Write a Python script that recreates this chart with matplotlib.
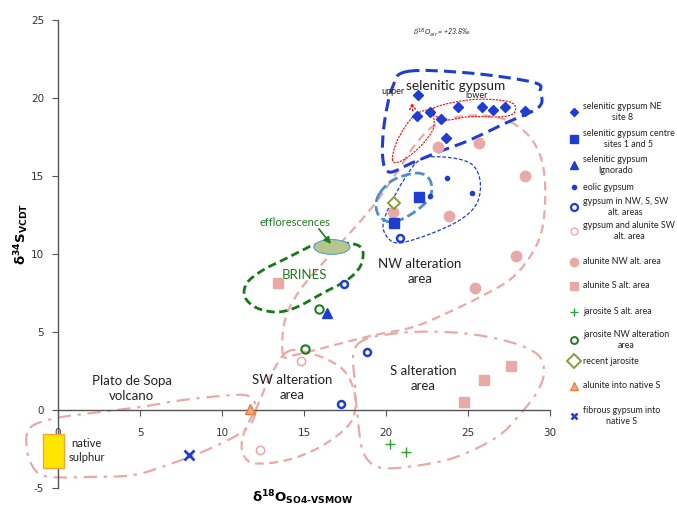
import numpy as np
import matplotlib
matplotlib.use("Agg")
import matplotlib.pyplot as plt
from matplotlib.path import Path
from matplotlib.patches import PathPatch, Ellipse, Rectangle

plt.rcParams['font.family'] = ['Lato', 'DejaVu Sans']
plt.rcParams['axes.unicode_minus'] = False

# --- isotope data (d18O SO4-VSMOW, d34S VCDT) ---
sel_ne_x = [21.95, 21.9, 22.7, 23.35, 24.4, 25.85, 26.5, 27.25, 28.5, 23.65]
sel_ne_y = [20.2, 18.85, 19.1, 18.65, 19.4, 19.4, 19.2, 19.4, 19.15, 17.45]
sel_centre_x = [22.0, 20.5]
sel_centre_y = [13.65, 12.0]
sel_ign_x = [16.4]
sel_ign_y = [6.2]
eolic_x = [23.7, 25.25, 22.7]
eolic_y = [14.9, 13.9, 13.7]
gyp_alt_x = [20.85, 17.45, 18.85, 17.25]
gyp_alt_y = [11.0, 8.1, 3.7, 0.4]
gyp_alu_sw_x = [14.8, 12.3]
gyp_alu_sw_y = [3.15, -2.55]
alu_nw_x = [23.2, 25.7, 28.5, 23.85, 27.9, 25.4, 20.4]
alu_nw_y = [16.85, 17.1, 15.0, 12.45, 9.9, 7.8, 12.7]
alu_s_x = [13.4, 27.6, 26.0, 24.75]
alu_s_y = [8.15, 2.8, 1.9, 0.5]
jar_s_x = [20.25, 21.2]
jar_s_y = [-2.2, -2.7]
jar_nw_x = [15.9, 15.05]
jar_nw_y = [6.5, 3.9]
jar_recent_x = [20.5]
jar_recent_y = [13.25]
alu_natS_x = [11.7]
alu_natS_y = [0.05]
fib_gyp_x = [8.0]
fib_gyp_y = [-2.9]
native_s_x = [-0.9, 0.35]   # x range of native sulphur box
native_s_y = [-3.7, -1.55]  # y range

# --- hand-drawn field outlines ---
loop_selenitic = [(21.3, 21.7), (25.1, 21.6), (29.0, 21.0), (29.4, 20.4), (29.3, 19.4),
                  (27.1, 18.3), (25.1, 17.3), (23.1, 16.5), (21.5, 15.8), (20.2, 15.25),
                  (19.8, 16.2), (19.9, 18.4), (20.4, 20.7)]
loop_upper = [(20.4, 16.0), (20.7, 17.3), (21.65, 18.8), (22.7, 19.2), (22.9, 18.1),
              (22.1, 16.9), (21.0, 16.0)]
loop_lower = [(22.9, 19.35), (25.3, 19.9), (27.55, 19.75), (27.85, 19.1), (27.1, 18.8),
              (25.1, 18.8), (23.5, 18.6)]
loop_nw = [(13.72, 3.53), (13.84, 5.77), (14.76, 7.69), (16.59, 9.94), (19.02, 12.82),
           (20.55, 15.06), (21.77, 16.99), (22.99, 18.27), (24.82, 18.85), (26.95, 18.72),
           (28.48, 17.82), (29.39, 16.35), (29.7, 14.42), (29.57, 11.86), (28.96, 10.13),
           (27.68, 8.46), (25.73, 7.24), (23.72, 6.22), (21.65, 5.32), (19.02, 4.74),
           (16.4, 4.04), (14.45, 3.53)]
loop_sw = [(13.96, 3.72), (15.37, 3.65), (17.2, 2.76), (17.99, 1.47), (18.11, 0.0),
           (17.62, -1.09), (15.98, -2.37), (13.96, -3.21), (11.89, -3.4), (11.22, -2.56),
           (11.4, -1.28), (12.13, 0.19), (12.93, 2.12)]
loop_s = [(18.23, 4.17), (20.85, 4.94), (24.51, 4.94), (27.56, 4.36), (29.27, 3.53),
          (29.63, 2.37), (29.21, 1.15), (28.29, -0.13), (26.77, -1.73), (24.09, -3.08),
          (21.28, -3.65), (19.51, -3.65), (18.6, -2.69), (18.29, -0.64), (18.11, 1.6)]
loop_plato = [(-1.71, -1.15), (-0.06, -0.51), (2.56, -0.13), (5.0, 0.19), (7.62, 0.64),
              (10.67, 0.96), (11.71, 0.83), (12.07, 0.0), (11.4, -1.28), (9.09, -2.56),
              (6.65, -3.53), (4.57, -4.17), (1.95, -4.29), (-0.49, -4.29), (-1.4, -3.85),
              (-1.89, -2.56)]
loop_brines = [(15.67, 10.58), (17.2, 10.71), (18.23, 10.58), (18.6, 10.13), (18.41, 9.17),
               (17.62, 8.33), (16.16, 7.5), (14.57, 6.6), (13.35, 6.28), (12.13, 6.54),
               (11.4, 7.24), (11.52, 8.14), (12.5, 8.97), (13.96, 9.74), (14.94, 10.26)]
loop_eolic = [(20.85, 10.71), (22.68, 11.28), (24.51, 12.18), (25.55, 13.27), (25.73, 14.74),
              (25.12, 15.83), (23.48, 16.22), (22.07, 16.03), (21.16, 14.87), (20.24, 13.14),
              (19.82, 11.86), (20.12, 11.03)]
loop_centre = [(19.63, 13.91), (20.43, 14.74), (21.89, 15.19), (22.68, 14.74), (22.68, 13.65),
               (21.65, 12.63), (20.43, 12.05), (19.63, 12.37), (19.39, 13.14)]

BLUE = '#1f3ed1'
PINK = '#e9aaa6'


def smooth_loop(pts):
    # closed Catmull-Rom curve turned into cubic bezier segments
    pts = np.asarray(pts, dtype=float)
    n = len(pts)
    verts = [pts[0]]
    codes = [Path.MOVETO]
    for i in range(n):
        p0, p1, p2, p3 = pts[i - 1], pts[i], pts[(i + 1) % n], pts[(i + 2) % n]
        verts += [p1 + (p2 - p0) / 6, p2 - (p3 - p1) / 6, p2]
        codes += [Path.CURVE4] * 3
    return Path(verts, codes)


def outline(ax, pts, color, lw, ls, z=1):
    ax.add_patch(PathPatch(smooth_loop(pts), fill=False, edgecolor=color, lw=lw,
                           linestyle=ls, zorder=z, clip_on=False))


fig = plt.figure(figsize=(6.77, 5.11), dpi=100)
ax = fig.add_axes([58 / 677, 23 / 511, 492 / 677, 468 / 511])
ax.set_xlim(0, 30)
ax.set_ylim(-5, 25)

for s in ['top', 'right']:
    ax.spines[s].set_visible(False)
ax.spines['left'].set_position(('data', 0))
ax.spines['bottom'].set_position(('data', 0))
for s in ['left', 'bottom']:
    ax.spines[s].set_color('#555555')
    ax.spines[s].set_linewidth(1.0)
ax.set_xticks(np.arange(0, 31, 5))
ax.set_yticks(np.arange(-5, 26, 5))
ax.tick_params(direction='out', length=4, color='#555555', labelsize=7.5,
               labelcolor='#333333', labelfontfamily='DejaVu Sans')
ax.tick_params(axis='x', pad=9)
ax.tick_params(axis='y', pad=6)

# field outlines
outline(ax, loop_plato, PINK, 1.6, (0, (6, 3, 1.5, 3)))
outline(ax, loop_s, PINK, 1.6, (0, (6, 3, 1.5, 3)))
outline(ax, loop_sw, PINK, 1.6, (0, (4, 2.5)))
outline(ax, loop_nw, PINK, 1.6, (0, (4, 2.5)))
outline(ax, loop_brines, '#157a15', 2.0, (0, (3, 1.6)), z=2)
outline(ax, loop_selenitic, BLUE, 2.2, (0, (4, 2)), z=2)
outline(ax, loop_eolic, BLUE, 0.9, (0, (3, 1.5)), z=2)
outline(ax, loop_centre, '#4f8fc6', 2.0, (0, (3.5, 1.5)), z=2)
outline(ax, loop_upper, 'red', 0.8, (0, (2, 1)), z=2)
outline(ax, loop_lower, 'red', 0.8, (0, (2, 1)), z=2)
ax.annotate('', xy=(21.55, 19.9), xytext=(21.65, 19.0),
            arrowprops=dict(arrowstyle='->', color='red', lw=1.0, linestyle=':'))

# efflorescences patch and arrow
ax.add_patch(Ellipse((16.7, 10.45), 2.2, 0.95, facecolor='#b7c68c', edgecolor='#5b9bd5',
                     lw=0.8, zorder=2))
ax.annotate('', xy=(16.75, 10.5), xytext=(15.8, 11.75),
            arrowprops=dict(arrowstyle='-|>', color='#1e7d1e', lw=1.2, mutation_scale=10),
            zorder=3)

# native sulphur box
ax.add_patch(Rectangle((native_s_x[0], native_s_y[0]), native_s_x[1] - native_s_x[0],
                       native_s_y[1] - native_s_y[0], facecolor='#ffe600',
                       edgecolor='#f5a23a', lw=1.0, zorder=3, clip_on=False))

# samples
kw = dict(linestyle='none', zorder=4, clip_on=False)
ax.plot(alu_nw_x, alu_nw_y, 'o', ms=7.5, color=PINK, mec=PINK, **kw)
ax.plot(alu_s_x, alu_s_y, 's', ms=7, color=PINK, mec=PINK, **kw)
ax.plot(gyp_alu_sw_x, gyp_alu_sw_y, 'o', ms=6, mfc='white', mec=PINK, mew=1.1, **kw)
ax.plot(sel_ne_x, sel_ne_y, 'D', ms=5.2, color=BLUE, **kw)
ax.plot(sel_centre_x, sel_centre_y, 's', ms=6.5, color=BLUE, **kw)
ax.plot(sel_ign_x, sel_ign_y, '^', ms=7, color=BLUE, **kw)
ax.plot(eolic_x, eolic_y, 'o', ms=3, color=BLUE, **kw)
ax.plot(gyp_alt_x, gyp_alt_y, 'o', ms=5, mfc='white', mec=BLUE, mew=1.8, **kw)
ax.plot(jar_s_x, jar_s_y, '+', ms=7, mec='#2ca02c', mew=1.0, **kw)
ax.plot(jar_nw_x, jar_nw_y, 'o', ms=6, mfc='none', mec='#1e7d1e', mew=1.5, **kw)
ax.plot(jar_recent_x, jar_recent_y, 'D', ms=6.5, mfc='white', mec='#8c9a3c', mew=1.4, **kw)
ax.plot(alu_natS_x, alu_natS_y, '^', ms=7, mfc='#eaa59a', mec='#f07b2c', mew=1.0, **kw)
ax.plot(fib_gyp_x, fib_gyp_y, 'x', ms=6.5, mec=BLUE, mew=2.0, **kw)

# labels on the plot
txt = dict(ha='center', va='center', color='#222222')
ax.text(23.4, 24.17, r'$\delta^{18}O_{air}$ = +23.8‰', fontsize=5, style='italic', **txt)
ax.text(24.27, 20.8, 'selenitic gypsum', fontsize=9.8, **txt)
ax.text(20.43, 20.4, 'upper', fontsize=6.5, **txt)
ax.text(25.55, 20.15, 'lower', fontsize=6.5, **txt)
ax.text(22.07, 8.85, 'NW alteration\narea', fontsize=9.5, linespacing=1.3, **txt)
ax.text(22.26, 1.99, 'S alteration\narea', fontsize=9.5, linespacing=1.3, **txt)
ax.text(14.27, 1.47, 'SW alteration\narea', fontsize=9.5, linespacing=1.3, **txt)
ax.text(4.5, 1.35, 'Plato de Sopa\nvolcano', fontsize=9.5, linespacing=1.3, **txt)
ax.text(1.75, -2.6, 'native\nsulphur', fontsize=8, linespacing=1.3, **txt)
ax.text(14.45, 12.05, 'efflorescences', fontsize=8, ha='center', va='center', color='#1e7d1e')
ax.text(15.06, 8.65, 'BRINES', fontsize=9.5, ha='center', va='center', color='#1e7d1e')

fig.text(303 / 677, 1 - 498 / 511, r'$\mathbf{\delta^{18}O_{SO4‐VSMOW}}$',
         fontsize=9.5, ha='center', va='center')
fig.text(22 / 677, 1 - 234 / 511, r'$\mathbf{\delta^{34}S_{VCDT}}$', rotation=90,
         fontsize=9.5, ha='center', va='center')

# legend, drawn in pixel space on the right margin
leg_labels = ['selenitic gypsum NE\nsite 8', 'selenitic gypsum centre\nsites 1 and 5',
              'selenitic gypsum\nIgnorado', 'eolic gypsum', 'gypsum in NW, S, SW\nalt. areas',
              'gypsum and alunite SW\nalt. area', 'alunite NW alt. area', 'alunite S alt. area',
              'jarosite S alt. area', 'jarosite NW alteration\narea', 'recent jarosite',
              'alunite into native S', 'fibrous gypsum into\nnative S']
leg_y = [112, 139, 165, 187, 207, 231, 262, 286, 312, 340, 361, 386, 416]
leg_style = [dict(marker='D', ms=4, color=BLUE), dict(marker='s', ms=5.5, color=BLUE),
             dict(marker='^', ms=5.5, color=BLUE), dict(marker='o', ms=3, color=BLUE),
             dict(marker='o', ms=5, mfc='white', mec=BLUE, mew=1.6),
             dict(marker='o', ms=5, mfc='white', mec=PINK, mew=1.0),
             dict(marker='o', ms=6, color=PINK), dict(marker='s', ms=6, color=PINK),
             dict(marker='+', ms=6, mec='#2ca02c', mew=1.0),
             dict(marker='o', ms=5, mfc='white', mec='#1e7d1e', mew=1.4),
             dict(marker='D', ms=7, mfc='white', mec='#8c9a3c', mew=1.4),
             dict(marker='^', ms=5.5, mfc='#f4a582', mec='#f07b2c', mew=0.8),
             dict(marker='x', ms=5, mec=BLUE, mew=1.8)]
lg = fig.add_axes([0, 0, 1, 1], facecolor='none')
lg.set_xlim(0, 677)
lg.set_ylim(511, 0)
lg.axis('off')
for lab, yy, st in zip(leg_labels, leg_y, leg_style):
    lg.plot([574], [yy], linestyle='none', **st)
    lg.text(583, yy, lab, fontsize=6.4, ha='left', va='center', multialignment='center',
            color='#222222', linespacing=1.35)

fig.savefig('out.png', dpi=100)
